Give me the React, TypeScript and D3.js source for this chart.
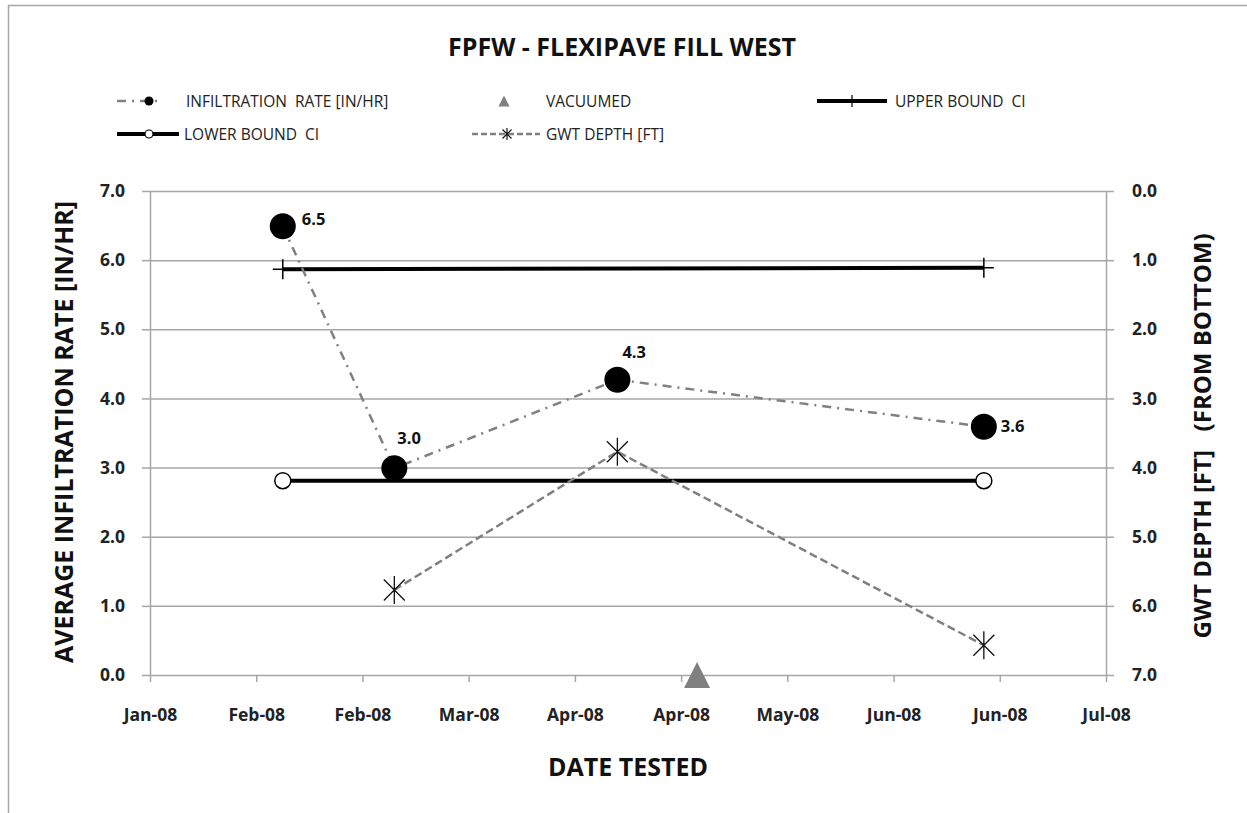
import React, { useEffect, useRef } from 'react';
import * as d3 from 'd3';

// values
const testDates = ['2008-02-09', '2008-03-01', '2008-04-12', '2008-06-20'];
const infiltrationRate = [6.49, 2.99, 4.27, 3.59];
const gwtDates = ['2008-03-01', '2008-04-12', '2008-06-20'];
const gwtDepth = [5.77, 3.77, 6.57];
const vacuumedDates = ['2008-04-27'];
const vacuumedRate = [0];
const boundDates = ['2008-02-09', '2008-06-20'];
const upperBoundCI = [5.87, 5.89];
const lowerBoundCI = [2.81, 2.81];
const xTickDates = [
  '2008-01-15', '2008-02-04', '2008-02-24', '2008-03-15', '2008-04-04',
  '2008-04-24', '2008-05-14', '2008-06-03', '2008-06-23', '2008-07-13',
];
const leftTicks = [0, 1, 2, 3, 4, 5, 6, 7];
const rightTicks = [0, 1, 2, 3, 4, 5, 6, 7];

const W = 1247;
const H = 813;
const FONT = '"Open Sans", Lato, sans-serif';
const GRAY = '#808080';

const App: React.FC = () => {
  const svgRef = useRef<SVGSVGElement>(null);

  useEffect(() => {
    if (!svgRef.current) return;
    const svg = d3.select(svgRef.current);
    svg.selectAll('*').remove();

    const parse = d3.utcParse('%Y-%m-%d');
    const margin = { top: 191, right: W - 1106, bottom: H - 675, left: 150 };
    const innerW = W - margin.left - margin.right;
    const innerH = H - margin.top - margin.bottom;

    const x = d3.scaleUtc()
      .domain([parse(xTickDates[0])!, parse(xTickDates[xTickDates.length - 1])!])
      .range([0, innerW]);
    const y = d3.scaleLinear().domain([0, 7]).range([innerH, 0]);
    const y2 = d3.scaleLinear().domain([0, 7]).range([0, innerH]);

    // frame (only top/left visible in the crop)
    svg.append('path')
      .attr('d', `M8.5,${H}V5.5H${W}`)
      .attr('fill', 'none')
      .attr('stroke', '#a6a6a6')
      .attr('stroke-width', 1.5);

    // title
    svg.append('text')
      .attr('x', 622).attr('y', 56)
      .attr('text-anchor', 'middle')
      .style('font-family', FONT).style('font-weight', 700).style('font-size', '25px')
      .attr('fill', '#111')
      .text('FPFW - FLEXIPAVE FILL WEST');

    const g = svg.append('g').attr('transform', `translate(${margin.left},${margin.top})`);

    // gridlines
    g.append('g')
      .selectAll('line')
      .data(leftTicks.filter(t => t > 0))
      .join('line')
      .attr('x1', 0).attr('x2', innerW)
      .attr('y1', d => y(d) + 0.5).attr('y2', d => y(d) + 0.5)
      .attr('stroke', '#a6a6a6').attr('stroke-width', 1.5);

    // axes
    const styleAxis = (sel: d3.Selection<SVGGElement, unknown, null, undefined>) => {
      sel.select('.domain').attr('stroke', '#a6a6a6').attr('stroke-width', 1.5);
      sel.selectAll('.tick line').attr('stroke', '#a6a6a6').attr('stroke-width', 1.5);
      sel.selectAll('.tick text')
        .style('font-family', FONT).style('font-weight', 700).style('font-size', '17.5px')
        .attr('fill', '#222');
    };

    const leftAxis = g.append('g')
      .call(d3.axisLeft(y).tickValues(leftTicks).tickFormat(d => d3.format('.1f')(d as number)).tickSize(8).tickSizeOuter(0).tickPadding(17));
    styleAxis(leftAxis);

    const rightAxis = g.append('g')
      .attr('transform', `translate(${innerW},0)`)
      .call(d3.axisRight(y2).tickValues(rightTicks).tickFormat(d => d3.format('.1f')(d as number)).tickSize(8).tickSizeOuter(0).tickPadding(18));
    styleAxis(rightAxis);

    const xAxis = g.append('g')
      .attr('transform', `translate(0,${innerH})`)
      .call(d3.axisBottom(x).tickValues(xTickDates.map(d => parse(d)!)).tickFormat(d => d3.utcFormat('%b-%y')(d as Date)).tickSize(7).tickSizeOuter(0).tickPadding(27));
    styleAxis(xAxis);

    // axis titles
    svg.append('text')
      .attr('transform', 'translate(73,432) rotate(-90)')
      .attr('text-anchor', 'middle')
      .style('font-family', FONT).style('font-weight', 700).style('font-size', '25px')
      .attr('fill', '#111')
      .text('AVERAGE INFILTRATION RATE [IN/HR]');

    svg.append('text')
      .attr('transform', 'translate(1211,436) rotate(-90)')
      .attr('text-anchor', 'middle')
      .attr('xml:space', 'preserve')
      .style('white-space', 'pre')
      .style('font-family', FONT).style('font-weight', 700).style('font-size', '24px')
      .attr('fill', '#111')
      .text('GWT DEPTH [FT]   (FROM BOTTOM)');

    svg.append('text')
      .attr('x', 628).attr('y', 776)
      .attr('text-anchor', 'middle')
      .style('font-family', FONT).style('font-weight', 700).style('font-size', '25px')
      .attr('fill', '#111')
      .text('DATE TESTED');

    // series data
    const infl = testDates.map((d, i) => ({ date: parse(d)!, v: infiltrationRate[i] }));
    const gwt = gwtDates.map((d, i) => ({ date: parse(d)!, v: gwtDepth[i] }));
    const upper = boundDates.map((d, i) => ({ date: parse(d)!, v: upperBoundCI[i] }));
    const lower = boundDates.map((d, i) => ({ date: parse(d)!, v: lowerBoundCI[i] }));
    const vac = vacuumedDates.map((d, i) => ({ date: parse(d)!, v: vacuumedRate[i] }));

    const line = d3.line<{ date: Date; v: number }>().x(d => x(d.date)).y(d => y(d.v));
    const line2 = d3.line<{ date: Date; v: number }>().x(d => x(d.date)).y(d => y2(d.v));

    // bound lines
    [upper, lower].forEach(s => {
      g.append('path').datum(s)
        .attr('fill', 'none').attr('stroke', '#000').attr('stroke-width', 4)
        .attr('d', line);
    });

    // GWT depth
    g.append('path').datum(gwt)
      .attr('fill', 'none').attr('stroke', GRAY).attr('stroke-width', 2.5)
      .attr('stroke-dasharray', '8,4')
      .attr('d', line2);

    // infiltration rate
    g.append('path').datum(infl)
      .attr('fill', 'none').attr('stroke', GRAY).attr('stroke-width', 2.5)
      .attr('stroke-dasharray', '9,6,2,6')
      .attr('d', line);

    // marker helpers
    const plusPath = (r: number) => `M${-r},0H${r}M0,${-r}V${r}`;
    const starPath = (r: number) => {
      const a = r * 0.75;
      return `M${-a},${-a}L${a},${a}M${-a},${a}L${a},${-a}M0,${-r}V${r}`;
    };
    const triPath = (s: number) => `M0,${-s / 2}L${s / 2},${s / 2}L${-s / 2},${s / 2}Z`;

    // upper bound markers
    g.selectAll('.ub').data(upper).join('path')
      .attr('transform', d => `translate(${x(d.date)},${y(d.v)})`)
      .attr('d', plusPath(10)).attr('stroke', '#000').attr('stroke-width', 1.5).attr('fill', 'none');

    // lower bound markers
    g.selectAll('.lb').data(lower).join('circle')
      .attr('cx', d => x(d.date)).attr('cy', d => y(d.v)).attr('r', 8)
      .attr('fill', '#fff').attr('stroke', '#000').attr('stroke-width', 1.5);

    // GWT markers
    g.selectAll('.gw').data(gwt).join('path')
      .attr('transform', d => `translate(${x(d.date)},${y2(d.v)})`)
      .attr('d', starPath(14)).attr('stroke', '#111').attr('stroke-width', 1.3).attr('fill', 'none');

    // infiltration markers
    g.selectAll('.inf').data(infl).join('circle')
      .attr('cx', d => x(d.date)).attr('cy', d => y(d.v)).attr('r', 13)
      .attr('fill', '#000');

    // vacuumed
    g.selectAll('.vac').data(vac).join('path')
      .attr('transform', d => `translate(${x(d.date)},${y(d.v)})`)
      .attr('d', triPath(26)).attr('fill', GRAY);

    // data labels
    const labelOffsets = [[19, -1], [3, -24], [5, -22], [17, 5]];
    g.selectAll('.lbl').data(infl).join('text')
      .attr('x', (d, i) => x(d.date) + labelOffsets[i][0])
      .attr('y', (d, i) => y(d.v) + labelOffsets[i][1])
      .style('font-family', FONT).style('font-weight', 700).style('font-size', '16.5px')
      .attr('fill', '#111')
      .text(d => d.v.toFixed(1));

    // legend
    const leg = svg.append('g');
    const legText = (tx: number, ty: number, label: string) =>
      leg.append('text').attr('x', tx).attr('y', ty + 6)
        .attr('xml:space', 'preserve').style('white-space', 'pre')
        .style('font-family', FONT).style('font-size', '15.5px').attr('fill', '#222')
        .text(label);

    // row 1
    leg.append('line').attr('x1', 117).attr('x2', 162).attr('y1', 101).attr('y2', 101)
      .attr('stroke', GRAY).attr('stroke-width', 2.5).attr('stroke-dasharray', '9,6,2,6');
    leg.append('circle').attr('cx', 149).attr('cy', 101).attr('r', 4.5).attr('fill', '#000');
    legText(186, 101, 'INFILTRATION  RATE [IN/HR]');

    leg.append('path').attr('transform', 'translate(504,101)').attr('d', triPath(11)).attr('fill', GRAY);
    legText(546, 101, 'VACUUMED');

    leg.append('line').attr('x1', 817).attr('x2', 887).attr('y1', 101).attr('y2', 101)
      .attr('stroke', '#000').attr('stroke-width', 4);
    leg.append('path').attr('transform', 'translate(852,101)').attr('d', plusPath(6))
      .attr('stroke', '#000').attr('stroke-width', 1.2);
    legText(895, 101, 'UPPER BOUND  CI');

    // row 2
    leg.append('line').attr('x1', 117).attr('x2', 179).attr('y1', 134).attr('y2', 134)
      .attr('stroke', '#000').attr('stroke-width', 4);
    leg.append('circle').attr('cx', 149).attr('cy', 134).attr('r', 4)
      .attr('fill', '#fff').attr('stroke', '#000').attr('stroke-width', 1.2);
    legText(184, 134, 'LOWER BOUND  CI');

    leg.append('line').attr('x1', 472).attr('x2', 540).attr('y1', 134).attr('y2', 134)
      .attr('stroke', GRAY).attr('stroke-width', 2.5).attr('stroke-dasharray', '6,3');
    leg.append('path').attr('transform', 'translate(507,134)').attr('d', starPath(6))
      .attr('stroke', '#111').attr('stroke-width', 1.2).attr('fill', 'none');
    legText(546, 134, 'GWT DEPTH [FT]');
  }, []);

  return (
    <svg
      ref={svgRef}
      width={W}
      height={H}
      viewBox={`0 0 ${W} ${H}`}
      style={{ position: 'absolute', left: 0, top: 0, background: '#fff' }}
    />
  );
};

export default App;
